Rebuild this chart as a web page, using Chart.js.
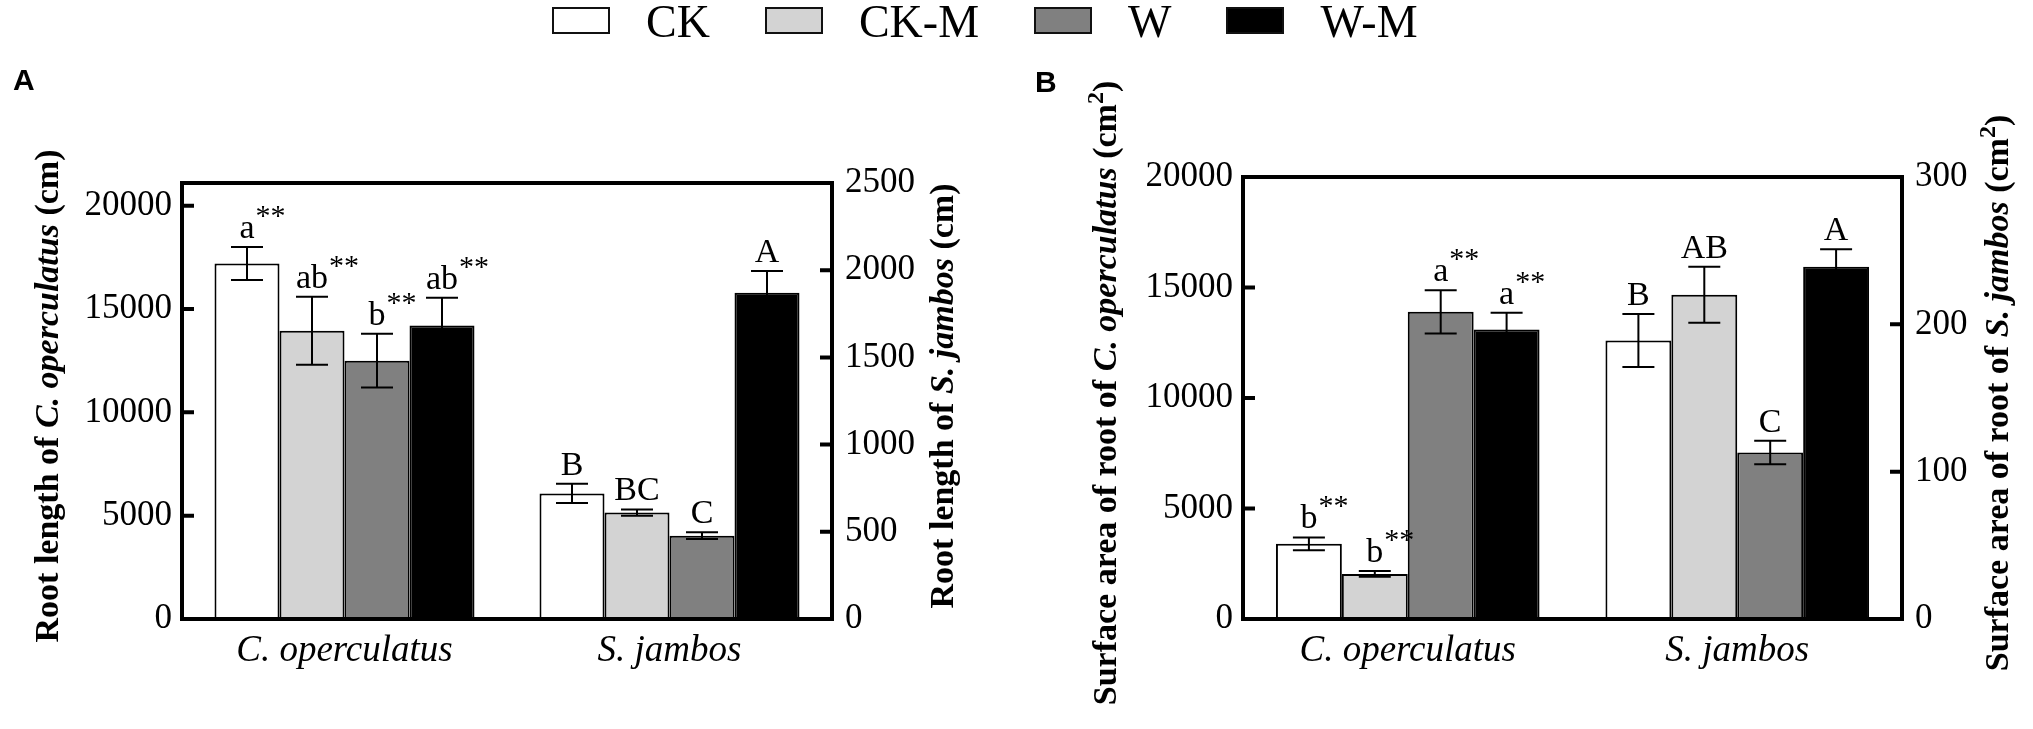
<!DOCTYPE html>
<html><head><meta charset="utf-8">
<script src="https://cdn.jsdelivr.net/npm/chart.js@4.4.0/dist/chart.umd.min.js"></script>
<style>
html,body{margin:0;padding:0;background:#fff;width:2033px;height:729px;overflow:hidden;position:relative}
canvas{position:absolute;top:0}
#cA{left:0}
#cB{left:1016px}
#legend{position:absolute;left:552px;top:0;height:40px;display:flex;align-items:center;font-family:'Liberation Serif',serif;font-size:46px;color:#000;z-index:2}
#legend .box{width:54px;height:23px;border:2px solid #111;margin-right:36px}
#legend .txt{margin-right:55px;line-height:40px;position:relative;top:2px}
.panel{position:absolute;font-family:'Liberation Sans',sans-serif;font-weight:bold;font-size:30px;z-index:2}
</style></head>
<body>
<div id="legend"></div>
<div class="panel" style="left:13px;top:63px">A</div>
<div class="panel" style="left:1035px;top:65px">B</div>
<canvas id="cA" width="1016" height="729"></canvas>
<canvas id="cB" width="1017" height="729"></canvas>
<script>
// ---------- data ----------
const categories = ['C. operculatus', 'S. jambos'];
const treatments = ['CK', 'CK-M', 'W', 'W-M'];
const fillColors = ['#ffffff', '#d3d3d3', '#808080', '#000000'];

// Panel A: root length (cm)
const lengthOp = [17200, 13950, 12500, 14200];
const lengthOpErr = [800, 1650, 1300, 1350];
const lengthOpLetters = ['a', 'ab', 'b', 'ab'];
const lengthSj = [720, 610, 478, 1870];
const lengthSjErr = [55, 18, 20, 125];
const lengthSjLetters = ['B', 'BC', 'C', 'A'];
const ticksLengthOp = [0, 5000, 10000, 15000, 20000];
const ticksLengthSj = [0, 500, 1000, 1500, 2000, 2500];

// Panel B: surface area of root (cm2)
const areaOp = [3400, 2040, 13900, 13100];
const areaOpErr = [290, 130, 980, 760];
const areaOpLetters = ['b', 'b', 'a', 'a'];
const areaSj = [189, 220, 113, 239];
const areaSjErr = [18, 19, 8, 12];
const areaSjLetters = ['B', 'AB', 'C', 'A'];
const ticksAreaOp = [0, 5000, 10000, 15000, 20000];
const ticksAreaSj = [0, 100, 200, 300];

// ---------- legend ----------
const lg = document.getElementById('legend');
treatments.forEach((t, i) => {
  const b = document.createElement('span'); b.className = 'box'; b.style.background = fillColors[i];
  const s = document.createElement('span'); s.className = 'txt'; s.textContent = t;
  lg.appendChild(b); lg.appendChild(s);
});

// ---------- helpers ----------
const SERIF = "'Liberation Serif', serif";

function makeDatasets(opVals, opErr, opLet, sjVals, sjErr, sjLet) {
  const ds = [];
  treatments.forEach((t, i) => ds.push({
    label: t, data: [opVals[i], null], yAxisID: 'yL',
    errs: [opErr[i], null], letters: [opLet[i], null], stars: true,
    backgroundColor: fillColors[i], borderColor: '#000', borderWidth: 2
  }));
  treatments.forEach((t, i) => ds.push({
    label: t, data: [null, sjVals[i]], yAxisID: 'yR',
    errs: [null, sjErr[i]], letters: [null, sjLet[i]], stars: false,
    backgroundColor: fillColors[i], borderColor: '#000', borderWidth: 2
  }));
  return ds;
}

function drawRich(ctx, cy, baselineX, parts) {
  ctx.save();
  ctx.translate(baselineX, cy);
  ctx.rotate(-Math.PI / 2);
  ctx.fillStyle = '#000';
  ctx.textBaseline = 'alphabetic';
  ctx.textAlign = 'left';
  let total = 0;
  parts.forEach(p => { ctx.font = p.font; p.w = ctx.measureText(p.text).width; total += p.w; });
  let x = -total / 2;
  parts.forEach(p => { ctx.font = p.font; ctx.fillText(p.text, x, p.dy || 0); x += p.w; });
  ctx.restore();
}

const annotPlugin = {
  id: 'annot',
  afterDatasetsDraw(chart) {
    const ctx = chart.ctx;
    ctx.save();
    chart.data.datasets.forEach((ds, di) => {
      const meta = chart.getDatasetMeta(di);
      const sc = chart.scales[ds.yAxisID];
      ds.data.forEach((v, j) => {
        if (v == null) return;
        const el = meta.data[j];
        const x = el.x;
        const e = ds.errs[j];
        const yT = sc.getPixelForValue(v + e);
        const yB = sc.getPixelForValue(v - e);
        ctx.strokeStyle = '#000';
        ctx.lineWidth = 2;
        ctx.beginPath();
        ctx.moveTo(x, yT); ctx.lineTo(x, yB);
        ctx.moveTo(x - 16, yT); ctx.lineTo(x + 16, yT);
        ctx.moveTo(x - 16, yB); ctx.lineTo(x + 16, yB);
        ctx.stroke();
        const txt = ds.letters[j];
        ctx.fillStyle = '#000';
        ctx.font = '34px ' + SERIF;
        ctx.textAlign = 'center';
        ctx.textBaseline = 'alphabetic';
        const by = yT - 9;
        ctx.fillText(txt, x, by);
        if (ds.stars) {
          const w = ctx.measureText(txt).width;
          ctx.font = '30px ' + SERIF;
          ctx.textAlign = 'left';
          ctx.fillText('**', x + w / 2 + 1, by - 13);
        }
      });
    });
    ctx.restore();
  },
  afterDraw(chart) {
    const ctx = chart.ctx;
    const a = chart.chartArea;
    const o = chart.options.plugins.annot;
    ctx.save();
    ctx.strokeStyle = '#000';
    ctx.lineWidth = 4;
    ctx.strokeRect(a.left, a.top, a.right - a.left, a.bottom - a.top);
    const yL = chart.scales.yL, yR = chart.scales.yR;
    ctx.beginPath();
    yL.ticks.forEach(t => { const y = yL.getPixelForValue(t.value); ctx.moveTo(a.left, y); ctx.lineTo(a.left + 12, y); });
    yR.ticks.forEach(t => { const y = yR.getPixelForValue(t.value); ctx.moveTo(a.right, y); ctx.lineTo(a.right - 12, y); });
    ctx.stroke();
    const cy = (a.top + a.bottom) / 2 - 5;
    drawRich(ctx, cy, a.left + o.leftOff, o.leftTitle);
    drawRich(ctx, cy, a.right + o.rightOff, o.rightTitle);
    ctx.restore();
  }
};

const B = 'bold 34px ' + SERIF;
const BI = 'italic bold 34px ' + SERIF;
const SUP = 'bold 24px ' + SERIF;

function makeChart(id, datasets, cfg) {
  return new Chart(document.getElementById(id), {
    type: 'bar',
    data: { labels: categories, datasets },
    plugins: [annotPlugin],
    options: {
      responsive: false,
      animation: false,
      devicePixelRatio: 1,
      skipNull: true,
      categoryPercentage: 0.8,
      barPercentage: 1.0,
      layout: { padding: { top: cfg.top, left: 0, right: 0, bottom: 0 } },
      plugins: {
        legend: { display: false },
        tooltip: { enabled: false },
        annot: cfg.annot
      },
      scales: {
        x: {
          grid: { display: false, drawTicks: false },
          border: { display: false },
          ticks: { color: '#000', padding: 10, font: { family: SERIF, size: 37, style: 'italic' } },
          afterFit: s => { s.height = 110; }
        },
        yL: {
          position: 'left', min: 0, max: cfg.leftMax,
          grid: { display: false, drawTicks: false },
          border: { display: false },
          ticks: { color: '#000', padding: 10, font: { family: SERIF, size: 35 }, callback: v => String(v), includeBounds: false },
          afterBuildTicks: s => { s.ticks = cfg.leftTicks.map(v => ({ value: v })); },
          afterFit: s => { s.width = cfg.leftW; }
        },
        yR: {
          position: 'right', min: 0, max: cfg.rightMax,
          grid: { display: false, drawTicks: false },
          border: { display: false },
          ticks: { color: '#000', padding: 13, font: { family: SERIF, size: 35 }, callback: v => String(v), includeBounds: false },
          afterBuildTicks: s => { s.ticks = cfg.rightTicks.map(v => ({ value: v })); },
          afterFit: s => { s.width = cfg.rightW; }
        }
      }
    }
  });
}

makeChart('cA',
  makeDatasets(lengthOp, lengthOpErr, lengthOpLetters, lengthSj, lengthSjErr, lengthSjLetters),
  {
    top: 183, leftW: 182, rightW: 184, leftMax: 21100, rightMax: 2500,
    leftTicks: ticksLengthOp, rightTicks: ticksLengthSj,
    annot: {
      leftOff: -124, rightOff: 121,
      leftTitle: [{ text: 'Root length of ', font: B }, { text: 'C. operculatus', font: BI }, { text: ' (cm)', font: B }],
      rightTitle: [{ text: 'Root length of ', font: B }, { text: 'S. jambos', font: BI }, { text: ' (cm)', font: B }]
    }
  });

makeChart('cB',
  makeDatasets(areaOp, areaOpErr, areaOpLetters, areaSj, areaSjErr, areaSjLetters),
  {
    top: 177, leftW: 227, rightW: 131, leftMax: 20000, rightMax: 300,
    leftTicks: ticksAreaOp, rightTicks: ticksAreaSj,
    annot: {
      leftOff: -127, rightOff: 106,
      leftTitle: [{ text: 'Surface area of root of ', font: B }, { text: 'C. operculatus', font: BI }, { text: ' (cm', font: B }, { text: '2', font: SUP, dy: -13 }, { text: ')', font: B }],
      rightTitle: [{ text: 'Surface area of root of ', font: B }, { text: 'S. jambos', font: BI }, { text: ' (cm', font: B }, { text: '2', font: SUP, dy: -13 }, { text: ')', font: B }]
    }
  });
</script>
</body></html>
